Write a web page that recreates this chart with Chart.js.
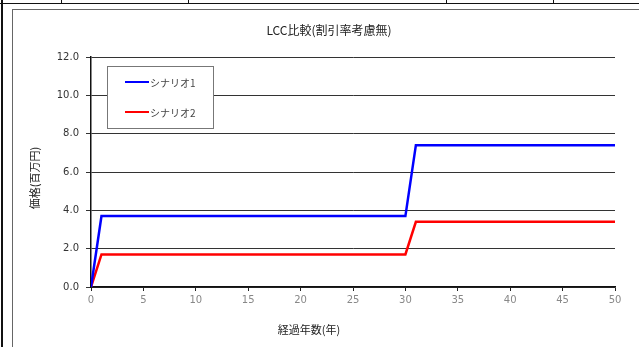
<!DOCTYPE html>
<html lang="ja">
<head>
<meta charset="utf-8">
<title>LCC比較(割引率考慮無)</title>
<script src="https://cdn.jsdelivr.net/npm/chart.js@4/dist/chart.umd.min.js"></script>
<style>
  html, body { margin: 0; padding: 0; background: #fff; }
  #wrap { position: relative; width: 639px; height: 347px; overflow: hidden; background: #fff; }
  #cv { position: absolute; left: 0; top: 0; }
  .rule { position: absolute; background: #111; }
  #frame { position: absolute; left: 12px; top: 9px; width: 700px; height: 400px;
           border-left: 1.5px solid #666; border-top: 1.5px solid #666; }
</style>
</head>
<body>
<div id="wrap">
  <!-- sheet cell borders around the chart object -->
  <div class="rule" style="left:1px;top:0;width:2px;height:347px;"></div>
  <div class="rule" style="left:0;top:3px;width:639px;height:1px;"></div>
  <div class="rule" style="left:61px;top:0;width:1px;height:4px;"></div>
  <div class="rule" style="left:188px;top:0;width:1px;height:4px;"></div>
  <div class="rule" style="left:446px;top:0;width:1px;height:4px;"></div>
  <div class="rule" style="left:553px;top:0;width:1px;height:4px;"></div>
  <div id="frame"></div>
  <canvas id="cv" width="639" height="347"></canvas>
</div>
<script>
// 経過年数 (years elapsed)
const years = [0,1,2,3,4,5,6,7,8,9,10,11,12,13,14,15,16,17,18,19,20,
  21,22,23,24,25,26,27,28,29,30,31,32,33,34,35,36,37,38,39,40,
  41,42,43,44,45,46,47,48,49,50];

// 累積LCC (百万円)
const scenario1 = [0,3.7,3.7,3.7,3.7,3.7,3.7,3.7,3.7,3.7,3.7,
  3.7,3.7,3.7,3.7,3.7,3.7,3.7,3.7,3.7,3.7,
  3.7,3.7,3.7,3.7,3.7,3.7,3.7,3.7,3.7,3.7,
  7.4,7.4,7.4,7.4,7.4,7.4,7.4,7.4,7.4,7.4,
  7.4,7.4,7.4,7.4,7.4,7.4,7.4,7.4,7.4,7.4];
const scenario2 = [0,1.7,1.7,1.7,1.7,1.7,1.7,1.7,1.7,1.7,1.7,
  1.7,1.7,1.7,1.7,1.7,1.7,1.7,1.7,1.7,1.7,
  1.7,1.7,1.7,1.7,1.7,1.7,1.7,1.7,1.7,1.7,
  3.4,3.4,3.4,3.4,3.4,3.4,3.4,3.4,3.4,3.4,
  3.4,3.4,3.4,3.4,3.4,3.4,3.4,3.4,3.4,3.4];

const seriesNames = ['シナリオ1', 'シナリオ2'];
const chartTitle = 'LCC比較(割引率考慮無)';
const xTitle = '経過年数(年)';
const yTitle = '価格(百万円)';

const JP = '"Noto Sans CJK JP", "Noto Sans", sans-serif';

function points(ys) { return years.map((x, i) => ({ x: x, y: ys[i] })); }

// titles and the boxed legend inside the plot area
const decorations = {
  id: 'decorations',
  afterDraw(chart) {
    const ctx = chart.ctx;
    ctx.save();
    ctx.fillStyle = '#222';
    ctx.textBaseline = 'middle';
    ctx.textAlign = 'center';
    ctx.font = '12px ' + JP;
    ctx.fillText(chartTitle, 329, 30);
    ctx.font = '11px ' + JP;
    ctx.fillText(xTitle, 309, 330);
    ctx.save();
    ctx.translate(35, 178);
    ctx.rotate(-Math.PI / 2);
    ctx.fillText(yTitle, 0, 0);
    ctx.restore();

    // legend
    ctx.fillStyle = '#fff';
    ctx.fillRect(107, 66, 107, 63);
    ctx.strokeStyle = '#777';
    ctx.lineWidth = 1;
    ctx.strokeRect(107.5, 66.5, 106, 62);
    const rows = [82, 112];
    chart.data.datasets.forEach((ds, i) => {
      ctx.strokeStyle = ds.borderColor;
      ctx.lineWidth = 2;
      ctx.beginPath();
      ctx.moveTo(125, rows[i]);
      ctx.lineTo(149, rows[i]);
      ctx.stroke();
      ctx.fillStyle = '#444';
      ctx.textAlign = 'left';
      ctx.font = '10px ' + JP;
      ctx.fillText(ds.label, 150, rows[i] + 1);
    });
    ctx.restore();
  }
};

new Chart(document.getElementById('cv'), {
  type: 'line',
  data: {
    datasets: [
      { label: seriesNames[0], data: points(scenario1), borderColor: '#0000ff',
        borderWidth: 2.5, pointRadius: 0, tension: 0, fill: false },
      { label: seriesNames[1], data: points(scenario2), borderColor: '#ff0000',
        borderWidth: 2.5, pointRadius: 0, tension: 0, fill: false }
    ]
  },
  options: {
    responsive: false,
    animation: false,
    layout: { padding: { left: 0, top: 57, right: 24, bottom: 0 } },
    plugins: { legend: { display: false }, title: { display: false }, tooltip: { enabled: false } },
    scales: {
      x: {
        type: 'linear', min: 0, max: 50,
        afterFit(s) { s.height = 60; },
        ticks: { stepSize: 5, padding: 3, color: '#888',
                 font: { family: 'DejaVu Sans', size: 10 } },
        grid: { drawOnChartArea: false, drawTicks: true, tickLength: 4, color: '#222' },
        border: { color: '#111', width: 1.5 }
      },
      y: {
        min: 0, max: 12,
        afterFit(s) { s.width = 91; },
        ticks: { stepSize: 2, padding: 7, color: '#333',
                 font: { family: 'DejaVu Sans', size: 10 },
                 callback: v => v.toFixed(1) },
        grid: { color: '#333', lineWidth: 1, tickLength: 5 },
        border: { color: '#111', width: 1.5 }
      }
    }
  },
  plugins: [decorations]
});
</script>
</body>
</html>
